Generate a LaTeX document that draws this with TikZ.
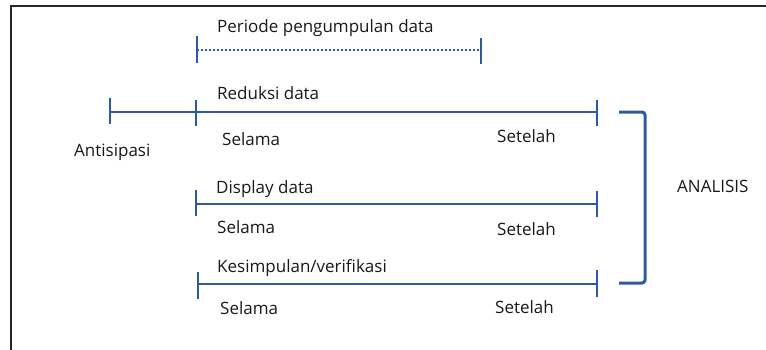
\documentclass[tikz,border=0pt]{standalone}
\usepackage{fontspec}
\setmainfont{Open Sans}
\definecolor{lineblue}{RGB}{46,90,160}
\definecolor{txt}{RGB}{25,25,25}
\begin{document}
\begin{tikzpicture}[x=1pt,y=-1pt,
  lbl/.style={anchor=base west,inner sep=0pt,text=txt,font=\fontsize{17}{20}\selectfont},
  tl/.style={draw=lineblue,line width=2pt},
  tick/.style={draw=lineblue,line width=2.4pt},
  dotl/.style={draw=lineblue,line width=1.8pt,dash pattern=on 1.6pt off 2.4pt},
  brk/.style={draw=lineblue,line width=3pt,rounded corners=3pt}]
\useasboundingbox (0,0) rectangle (766,349);
\fill[white] (0,0) rectangle (766,349);
% frame
\draw[line width=2.4pt,draw=black!85] (11,352) -- (11,6) -- (770,6);
% texts
\node[lbl] (periode) at (217,32) {Periode pengumpulan data};
\node[lbl] (reduksi) at (217,99) {Reduksi data};
\node[lbl] (sel1) at (222,145) {Selama};
\node[lbl] (set1) at (497,142) {Setelah};
\node[lbl] (antis) at (74,156) {Antisipasi};
\node[lbl] (display) at (216,193) {Display data};
\node[lbl] (sel2) at (217,233) {Selama};
\node[lbl] (set2) at (497,235) {Setelah};
\node[lbl] (kesim) at (217,272) {Kesimpulan/verifikasi};
\node[lbl] (sel3) at (220,314) {Selama};
\node[lbl] (set3) at (495,313) {Setelah};
\node[lbl] (anal) at (677,192) {ANALISIS};
% period dotted
\coordinate (p0) at (197,50); \coordinate (p1) at (481,50);
\draw[dotl] (p0) -- (p1);
\draw[tick] ([yshift=-13pt]p0) -- ([yshift=14pt]p0);
\draw[tick] ([yshift=-14pt]p1) -- ([yshift=12pt]p1);
% reduksi
\coordinate (r0) at (110,112); \coordinate (r1) at (196,112); \coordinate (r2) at (597,112);
\draw[tl] (r0) -- (r2);
\draw[tick] ([yshift=-12pt]r0) -- ([yshift=14pt]r0);
\draw[tick] ([yshift=-14pt]r1) -- ([yshift=12pt]r1);
\draw[tick] ([yshift=-14pt]r2) -- ([yshift=12pt]r2);
% display
\coordinate (d0) at (196,204); \coordinate (d1) at (597,204);
\draw[tl] (d0) -- (d1);
\draw[tick] ([yshift=-12pt]d0) -- ([yshift=14pt]d0);
\draw[tick] ([yshift=-13pt]d1) -- ([yshift=13pt]d1);
% kesimpulan
\coordinate (k0) at (198,284); \coordinate (k1) at (597,284);
\draw[tl] (k0) -- (k1);
\draw[tick] ([yshift=-15pt]k0) -- ([yshift=12pt]k0);
\draw[tick] ([yshift=-13pt]k1) -- ([yshift=14pt]k1);
% bracket
\coordinate (b0) at (619,112); \coordinate (b1) at (645,112);
\coordinate (b2) at (645,283); \coordinate (b3) at (619,283);
\draw[brk] (b0) -- (b1) -- (b2) -- (b3);
\end{tikzpicture}
\end{document}
